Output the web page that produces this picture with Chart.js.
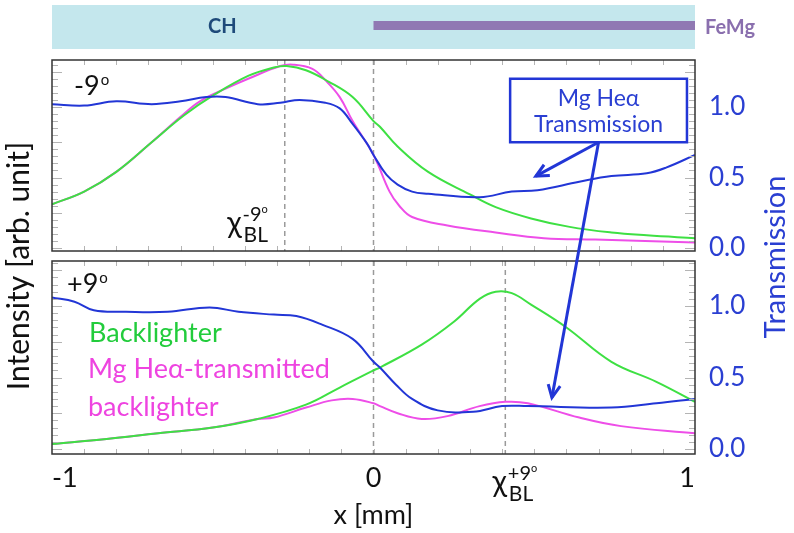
<!DOCTYPE html>
<html>
<head>
<meta charset="utf-8">
<script src="https://cdn.jsdelivr.net/npm/chart.js@4.4.0/dist/chart.umd.min.js"></script>
<style>
  body { margin: 0; background: #fff; }
  #wrap { position: relative; width: 794px; height: 533px; }
  canvas { position: absolute; left: 0; top: 0; }
</style>
</head>
<body>
<div id="wrap">
  <canvas id="topChart" width="794" height="533"></canvas>
  <canvas id="botChart" width="794" height="533"></canvas>
</div>
<script>
// ---- data ----
// top panel (-9 deg)
topBlueX = [-1.00, -0.90, -0.80, -0.69, -0.60, -0.52, -0.46, -0.36, -0.29, -0.23, -0.15, -0.105, -0.065, -0.02, 0.00, 0.04, 0.075, 0.12, 0.17, 0.33, 0.43, 0.51, 0.64, 0.74, 0.85, 0.91, 1.00];
topBlueY = [1.02, 1.01, 1.04, 1.02, 1.04, 1.07, 1.07, 1.02, 1.03, 1.05, 1.03, 0.99, 0.88, 0.74, 0.66, 0.52, 0.45, 0.40, 0.385, 0.36, 0.40, 0.41, 0.47, 0.51, 0.53, 0.57, 0.66];
topGreenX = [-1.00, -0.90, -0.80, -0.69, -0.59, -0.50, -0.39, -0.31, -0.27, -0.21, -0.14, -0.065, 0.00, 0.02, 0.075, 0.17, 0.30, 0.38, 0.49, 0.61, 0.74, 0.85, 1.00];
topGreenY = [0.31, 0.40, 0.54, 0.75, 0.94, 1.08, 1.22, 1.28, 1.29, 1.26, 1.18, 1.07, 0.90, 0.86, 0.72, 0.54, 0.38, 0.29, 0.21, 0.15, 0.11, 0.09, 0.07];
topMagX = [-1.00, -0.90, -0.80, -0.69, -0.60, -0.54, -0.46, -0.39, -0.29, -0.25, -0.19, -0.15, -0.105, -0.065, 0.00, 0.05, 0.08, 0.12, 0.23, 0.38, 0.53, 0.69, 1.00];
topMagY = [0.31, 0.40, 0.54, 0.75, 0.93, 1.04, 1.13, 1.20, 1.29, 1.30, 1.27, 1.19, 1.07, 0.90, 0.66, 0.40, 0.30, 0.22, 0.16, 0.11, 0.07, 0.06, 0.04];

// bottom panel (+9 deg)
botBlueX = [-1.00, -0.93, -0.87, -0.77, -0.64, -0.51, -0.42, -0.31, -0.24, -0.16, -0.065, 0.00, 0.02, 0.07, 0.12, 0.20, 0.31, 0.40, 0.48, 0.74, 0.88, 1.00];
botBlueY = [1.06, 1.03, 0.97, 0.96, 0.96, 0.99, 0.96, 0.94, 0.93, 0.87, 0.77, 0.61, 0.57, 0.45, 0.35, 0.27, 0.26, 0.30, 0.30, 0.29, 0.32, 0.35];
botGreenX = [-1.00, -0.83, -0.67, -0.50, -0.36, -0.21, -0.105, 0.00, 0.02, 0.15, 0.25, 0.33, 0.38, 0.43, 0.49, 0.60, 0.74, 0.88, 1.00];
botGreenY = [0.035, 0.07, 0.11, 0.15, 0.21, 0.31, 0.43, 0.55, 0.57, 0.73, 0.89, 1.05, 1.10, 1.09, 1.01, 0.85, 0.61, 0.47, 0.33];
botMagX = [-1.00, -0.83, -0.67, -0.50, -0.36, -0.31, -0.21, -0.13, -0.065, 0.00, 0.02, 0.075, 0.15, 0.23, 0.33, 0.41, 0.48, 0.64, 0.77, 1.00];
botMagY = [0.035, 0.07, 0.11, 0.15, 0.21, 0.22, 0.29, 0.34, 0.35, 0.32, 0.30, 0.25, 0.21, 0.23, 0.30, 0.33, 0.32, 0.22, 0.16, 0.11];

xTicks = [-1, 0, 1];
yTicks = [0, 0.5, 1.0];
topDashes = [0, -0.276];
botDashes = [0, 0.41];

// ---- styles ----
var FONT = 'Lato, "DejaVu Sans", sans-serif';
var BLUE = '#2236d6';
var GREEN = '#3ee043';
var MAGENTA = '#ee4ee8';
var TXTBLUE = '#2a3fd2';

function pts(xs, ys) {
    return xs.map((x, i) => ({ x: x, y: ys[i] }));
}

function line(label, xs, ys, color) {
    return {
        label: label,
        data: pts(xs, ys),
        borderColor: color,
        backgroundColor: color,
        borderWidth: 2,
        pointRadius: 0,
        tension: 0.4,
        fill: false
    };
}

function drawArrow(ctx, x1, y1, x2, y2) {
    var ang = Math.atan2(y2 - y1, x2 - x1);
    var h = 14;
    ctx.beginPath();
    ctx.moveTo(x1, y1);
    ctx.lineTo(x2, y2);
    ctx.stroke();
    ctx.beginPath();
    ctx.moveTo(x2 - h * Math.cos(ang - 0.45), y2 - h * Math.sin(ang - 0.45));
    ctx.lineTo(x2, y2);
    ctx.lineTo(x2 - h * Math.cos(ang + 0.45), y2 - h * Math.sin(ang + 0.45));
    ctx.stroke();
}

// chi with subscript BL and superscript angle
function drawChi(ctx, left, base, sup) {
    ctx.fillStyle = '#111';
    ctx.textAlign = 'left';
    ctx.textBaseline = 'alphabetic';
    ctx.font = '30px ' + FONT;
    ctx.fillText('\u03c7', left, base);
    var w = ctx.measureText('\u03c7').width;
    ctx.font = '20px ' + FONT;
    ctx.fillText(sup, left + w + 1, base - 12);
    var sw = ctx.measureText(sup).width;
    ctx.font = '11px ' + FONT;
    ctx.fillText('o', left + w + 1 + sw, base - 20);
    ctx.font = '21px ' + FONT;
    ctx.fillText('BL', left + w + 2, base + 9);
}

function angleLabel(ctx, left, base, txt) {
    ctx.fillStyle = '#111';
    ctx.textAlign = 'left';
    ctx.textBaseline = 'alphabetic';
    ctx.font = '27px ' + FONT;
    ctx.fillText(txt, left, base);
    var w = ctx.measureText(txt).width;
    ctx.font = '15px ' + FONT;
    ctx.fillText('o', left + w + 1, base - 10);
}

// frame, inward ticks and dashed lines for one panel
function panelDeco(dashes) {
    return {
        id: 'panelDeco',
        beforeDatasetsDraw(chart) {
            var ctx = chart.ctx, a = chart.chartArea, x = chart.scales.x;
            ctx.save();
            ctx.strokeStyle = '#9a9a9a';
            ctx.lineWidth = 1.5;
            ctx.setLineDash([5, 4]);
            dashes.forEach(function (v) {
                var px = x.getPixelForValue(v);
                ctx.beginPath();
                ctx.moveTo(px, a.top);
                ctx.lineTo(px, a.bottom);
                ctx.stroke();
            });
            ctx.restore();
        },
        afterDatasetsDraw(chart) {
            var ctx = chart.ctx, a = chart.chartArea, x = chart.scales.x, y = chart.scales.y;
            ctx.save();
            ctx.strokeStyle = '#b4b4b4';
            ctx.lineWidth = 1;
            for (var i = -9; i <= 9; i++) {
                var px = Math.round(x.getPixelForValue(i / 10)) + 0.5;
                ctx.beginPath();
                ctx.moveTo(px, a.top); ctx.lineTo(px, a.top + 5);
                ctx.moveTo(px, a.bottom); ctx.lineTo(px, a.bottom - 5);
                ctx.stroke();
            }
            for (var k = 0; k * 0.05 < y.max; k++) {
                var py = Math.round(y.getPixelForValue(k * 0.05)) + 0.5;
                var len = (k % 5 === 0) ? 10 : 6;
                ctx.beginPath();
                ctx.moveTo(a.left, py); ctx.lineTo(a.left + len, py);
                ctx.moveTo(a.right, py); ctx.lineTo(a.right - len, py);
                ctx.stroke();
            }
            ctx.strokeStyle = '#333';
            ctx.lineWidth = 1.5;
            ctx.strokeRect(a.left, a.top, a.right - a.left, a.bottom - a.top);
            ctx.restore();
        }
    };
}

function rightAxis(min, max) {
    return {
        type: 'linear',
        position: 'right',
        min: min,
        max: max,
        afterFit: function (s) { s.width = 99; },
        afterBuildTicks: function (s) { s.ticks = yTicks.map(v => ({ value: v })); },
        grid: { display: false, drawTicks: false },
        border: { display: false },
        ticks: {
            color: TXTBLUE,
            padding: 14,
            font: { family: FONT, size: 26 },
            callback: function (v) { return v.toFixed(1); }
        }
    };
}

// ---- top panel ----
var topExtras = {
    id: 'topExtras',
    beforeDraw(chart) {
        var ctx = chart.ctx, x = chart.scales.x;
        var l = x.getPixelForValue(-1), r = x.getPixelForValue(1), m = x.getPixelForValue(0);
        ctx.save();
        ctx.fillStyle = '#c4e7ed';
        ctx.fillRect(l, 5, r - l, 44);
        ctx.fillStyle = '#9079b3';
        ctx.fillRect(m, 21, r - m, 9);
        ctx.textBaseline = 'middle';
        ctx.textAlign = 'center';
        ctx.font = 'bold 20px ' + FONT;
        ctx.fillStyle = '#1e4a7a';
        ctx.fillText('CH', x.getPixelForValue(-0.47), 27);
        ctx.textAlign = 'left';
        ctx.fillStyle = '#8a6fae';
        ctx.fillText('FeMg', r + 10, 28);
        ctx.restore();
    },
    afterDraw(chart) {
        var ctx = chart.ctx, x = chart.scales.x, y = chart.scales.y;
        ctx.save();
        angleLabel(ctx, chart.chartArea.left + 22, chart.chartArea.top + 35, '-9');
        drawChi(ctx, x.getPixelForValue(-0.455), y.getPixelForValue(0.11), '-9');
        // label box
        var bl = x.getPixelForValue(0.425), br = x.getPixelForValue(0.975);
        var bt = y.getPixelForValue(1.20), bb = y.getPixelForValue(0.75);
        ctx.fillStyle = '#fff';
        ctx.fillRect(bl, bt, br - bl, bb - bt);
        ctx.strokeStyle = BLUE;
        ctx.lineWidth = 2.5;
        ctx.strokeRect(bl, bt, br - bl, bb - bt);
        ctx.fillStyle = TXTBLUE;
        ctx.textAlign = 'center';
        ctx.textBaseline = 'middle';
        ctx.font = '23px ' + FONT;
        ctx.fillText('Mg He\u03b1', (bl + br) / 2, bt + 20);
        ctx.fillText('Transmission', (bl + br) / 2, bt + 46);
        // short arrow
        ctx.lineWidth = 3;
        drawArrow(ctx, x.getPixelForValue(0.70), bb, x.getPixelForValue(0.505), y.getPixelForValue(0.51));
        ctx.restore();
    }
};

var topChart = new Chart(document.getElementById('topChart'), {
    type: 'line',
    data: {
        datasets: [
            line('Transmission', topBlueX, topBlueY, BLUE),
            line('Backlighter', topGreenX, topGreenY, GREEN),
            line('Mg He\u03b1-transmitted backlighter', topMagX, topMagY, MAGENTA)
        ]
    },
    options: {
        responsive: false,
        animation: false,
        layout: { padding: { left: 52, top: 60, right: 0, bottom: 282 } },
        plugins: { legend: { display: false }, tooltip: { enabled: false } },
        scales: {
            x: { type: 'linear', min: -1, max: 1, display: false },
            y: rightAxis(-0.021, 1.333)
        }
    },
    plugins: [panelDeco(topDashes), topExtras]
});

// ---- bottom panel ----
var botExtras = {
    id: 'botExtras',
    afterDraw(chart) {
        var ctx = chart.ctx, x = chart.scales.x, y = chart.scales.y, a = chart.chartArea;
        ctx.save();
        angleLabel(ctx, a.left + 15, a.top + 32, '+9');
        ctx.textAlign = 'left';
        ctx.textBaseline = 'alphabetic';
        ctx.font = '27px ' + FONT;
        ctx.fillStyle = '#22cc3c';
        ctx.fillText('Backlighter', a.left + 37, y.getPixelForValue(0.75));
        ctx.fillStyle = '#ee44e0';
        ctx.fillText('Mg He\u03b1-transmitted', a.left + 36, y.getPixelForValue(0.50));
        ctx.fillText('backlighter', a.left + 36, y.getPixelForValue(0.23));
        drawChi(ctx, x.getPixelForValue(0.37), a.bottom + 38, '+9');
        // long arrow from the label box in the top panel
        var ty = topChart.scales.y;
        ctx.strokeStyle = BLUE;
        ctx.lineWidth = 3;
        drawArrow(ctx, x.getPixelForValue(0.70), ty.getPixelForValue(0.75), x.getPixelForValue(0.555), y.getPixelForValue(0.36));
        // axis titles spanning both panels
        ctx.textAlign = 'center';
        ctx.textBaseline = 'middle';
        ctx.save();
        ctx.translate(19, 266);
        ctx.rotate(-Math.PI / 2);
        ctx.fillStyle = '#111';
        ctx.font = '30px ' + FONT;
        ctx.fillText('Intensity [arb. unit]', 0, 0);
        ctx.restore();
        ctx.save();
        ctx.translate(776, 257);
        ctx.rotate(-Math.PI / 2);
        ctx.fillStyle = TXTBLUE;
        ctx.font = '29px ' + FONT;
        ctx.fillText('Transmission', 0, 0);
        ctx.restore();
        ctx.restore();
    }
};

var botChart = new Chart(document.getElementById('botChart'), {
    type: 'line',
    data: {
        datasets: [
            line('Transmission', botBlueX, botBlueY, BLUE),
            line('Backlighter', botGreenX, botGreenY, GREEN),
            line('Mg He\u03b1-transmitted backlighter', botMagX, botMagY, MAGENTA)
        ]
    },
    options: {
        responsive: false,
        animation: false,
        layout: { padding: { left: 52, top: 261, right: 0, bottom: 0 } },
        plugins: { legend: { display: false }, tooltip: { enabled: false } },
        scales: {
            x: {
                type: 'linear',
                min: -1,
                max: 1,
                afterFit: function (s) { s.height = 79; },
                afterBuildTicks: function (s) { s.ticks = xTicks.map(v => ({ value: v })); },
                grid: { display: false, drawTicks: false },
                border: { display: false },
                ticks: {
                    color: '#111',
                    padding: 8,
                    align: 'inner',
                    maxRotation: 0,
                    font: { family: FONT, size: 27 }
                },
                title: {
                    display: true,
                    text: 'x [mm]',
                    color: '#111',
                    font: { family: FONT, size: 27 },
                    padding: { top: 0, bottom: 2 }
                }
            },
            y: rightAxis(-0.035, 1.315)
        }
    },
    plugins: [panelDeco(botDashes), botExtras]
});
</script>
</body>
</html>
